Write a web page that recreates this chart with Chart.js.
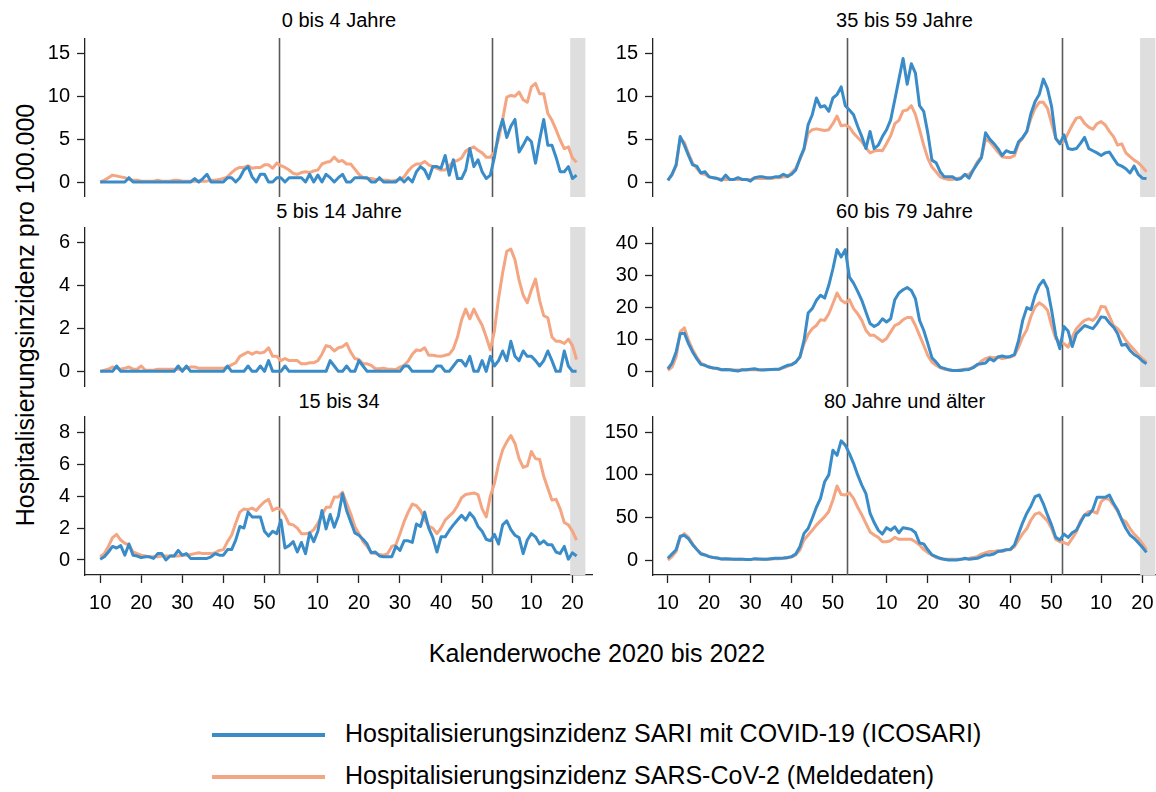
<!DOCTYPE html>
<html lang="de">
<head>
<meta charset="utf-8">
<title>Hospitalisierungsinzidenz nach Altersgruppe</title>
<script src="https://cdn.jsdelivr.net/npm/chart.js@4.4.1/dist/chart.umd.min.js"></script>
<style>
  body { margin: 0; background: #fff; font-family: "Liberation Sans", Arial, sans-serif; }
  #page { position: relative; width: 1156px; height: 792px; overflow: hidden; background: #fff; }
  .panel { position: absolute; }
  .ptitle { position: absolute; text-align: center; font-size: 20px; line-height: 20px; color: #000; white-space: nowrap; }
  #ytitle { position: absolute; left: 25px; top: 315px; transform: translate(-50%, -50%) rotate(-90deg);
            font-size: 25px; white-space: nowrap; color: #000; }
  #xtitle { position: absolute; left: 597px; top: 653px; transform: translate(-50%, -50%);
            font-size: 25px; white-space: nowrap; color: #000; }
  .leg { position: absolute; left: 212px; height: 30px; font-size: 25px; line-height: 30px; color: #000; white-space: nowrap; }
  .leg span { display: inline-block; width: 113px; height: 4px; vertical-align: middle; margin-right: 20px; }
</style>
</head>
<body>
<div id="page">
  <div id="ytitle">Hospitalisierungsinzidenz pro 100.000</div>
  <div id="xtitle">Kalenderwoche 2020 bis 2022</div>
  <div class="leg" style="top:718px"><span style="background:#3a8cc9"></span>Hospitalisierungsinzidenz SARI mit COVID-19 (ICOSARI)</div>
  <div class="leg" style="top:760px"><span style="background:#f4a582"></span>Hospitalisierungsinzidenz SARS-CoV-2 (Meldedaten)</div>
</div>
<script>
// Kalenderwochen 2020 KW10 bis 2022 KW21
const weeks = [];
[[2020, 10, 53], [2021, 1, 52], [2022, 1, 21]].forEach(([y, a, b]) => {
  for (let w = a; w <= b; w++) weeks.push(y + '-' + w);
});

const xTickWeeks = ['2020-10', '2020-20', '2020-30', '2020-40', '2020-50',
                    '2021-10', '2021-20', '2021-30', '2021-40', '2021-50',
                    '2022-10', '2022-20'];
const xTickLabels = ['10', '20', '30', '40', '50', '10', '20', '30', '40', '50', '10', '20'];

// ICOSARI (blau) und Meldedaten (orange), je Altersgruppe
const icosari_0_4 = [0,0,0,0,0,0,0,0.5,0,0, 0,0,0,0,0,0,0,0,0,0, 0,0,0,0.4,0,0.4,0.9,0,0,0,
  0,0.5,0.5,0,0.5,1.4,1.8,0.6,0,0.9, 0.9,0,0,0.5,0.5,0,0.5,0.5,0.5,0.5, 0,0.9,0,0.8,0,0.9,0.5,0,0.5,0.9,
  0,0,0.5,0.5,0.5,0.5,0,0,0.5,0, 0,0,0,0.5,0,0.5,0,1.2,1.8,1.4, 0.4,1.8,1.8,1.6,3.1,0.8,2.6,0.4,0.4,1.4,
  3.9,1.8,2.6,1.2,0.4,0.8,2.9,5.7,7.3,5.2, 6.5,7.3,3.5,4.3,5.2,4.7,2.2,4.9,7.3,4.3, 4.3,2.9,1.2,1.2,1.8,0.4,0.8];
const melde_0_4 = [0,0.2,0.5,0.8,0.7,0.6,0.5,0.3,0.2,0.2, 0.1,0.1,0.1,0.1,0.2,0.1,0.1,0.1,0.2,0.2,
  0.1,0.1,0.1,0.1,0.1,0.1,0.1,0.2,0.2,0.3, 0.4,0.6,1.1,1.5,1.7,1.7,1.9,1.6,1.7,1.7, 2.0,2.0,1.6,2.2,1.9,1.7,1.4,1.0,0.9,1.1,
  1.2,1.1,1.3,1.4,2.1,2.3,2.4,2.9,2.4,2.5, 2.1,2.1,1.5,0.9,0.5,0.4,0.4,0.3,0.3,0.2, 0.2,0.1,0.2,0.3,0.6,1.3,1.8,2.1,2.1,2.4,
  2.0,1.8,1.6,1.4,1.4,1.9,2.4,2.5,2.8,3.6, 3.9,4.1,3.7,3.4,2.9,2.9,3.5,5.0,7.3,9.9, 10.1,10.0,10.5,9.6,9.3,11.1,11.5,10.3,10.3,8.0,
  7.2,6.1,4.9,3.9,4.1,2.8,2.3];

const icosari_5_14 = [0,0,0,0,0.25,0,0,0,0,0, 0,0,0,0,0,0,0,0,0,0.25, 0,0.25,0,0,0,0,0,0,0,0,
  0,0.25,0,0,0,0,0.25,0,0,0.25, 0,0.5,0,0,0,0.25,0,0,0,0, 0,0,0,0,0,0,0.5,0.25,0,0,
  0.25,0,0,0.5,0.25,0,0,0,0,0, 0,0,0,0,0.25,0.25,0,0,0,0, 0,0,0.25,0.25,0,0,0.25,0.5,0.5,0.25,
  0.7,0,0,0.5,0,0.7,0.25,0.5,0.95,0.5, 1.4,0.7,0.5,0.95,0.7,0.7,0.5,0.25,0.5,0.95, 0.5,0,0,0.95,0.25,0,0];
const melde_5_14 = [0,0.05,0.1,0.2,0.15,0.1,0.15,0.2,0.1,0.1, 0.25,0.05,0.05,0.05,0.1,0.1,0.1,0.1,0.1,0.1,
  0.1,0.15,0.2,0.2,0.15,0.15,0.15,0.15,0.15,0.15, 0.15,0.2,0.3,0.4,0.7,0.8,0.9,0.8,0.9,0.85,
  0.9,1.1,0.7,0.7,0.5,0.6,0.5,0.5,0.5,0.35, 0.35,0.4,0.4,0.5,0.8,1.2,1.15,0.95,1.1,1.15,
  1.3,0.9,0.6,0.55,0.35,0.35,0.28,0.12,0.12,0.15, 0.1,0.1,0.08,0.2,0.28,0.48,0.8,1.0,0.97,1.1,
  0.75,0.75,0.72,0.7,0.75,0.8,1.05,1.6,2.4,2.9, 2.45,2.9,2.5,2.15,1.6,1.0,1.9,3.4,4.6,5.6,
  5.7,5.2,4.25,3.55,3.2,3.8,4.3,3.3,2.6,2.5, 1.6,1.4,1.4,1.3,1.5,1.2,0.55];

const icosari_15_34 = [0.05,0.2,0.5,0.85,0.75,0.9,0.3,1.0,0.3,0.25, 0.15,0.2,0.2,0.1,0.4,0.4,0,0.25,0.25,0.6,
  0.3,0.4,0.1,0.1,0.1,0.1,0.1,0.2,0.4,0.3, 0.3,0.65,0.65,1.25,2.1,2.0,3.0,2.7,2.7,2.7,
  1.8,1.5,1.8,1.65,2.5,0.75,0.9,1.15,0.5,1.1, 0.4,1.7,1.15,1.8,3.1,1.95,2.85,2.05,2.75,4.15,
  3.1,2.4,1.7,1.55,1.3,1.0,0.45,0.5,0.25,0.2, 0.2,0.2,0.85,0.6,1.2,1.2,1.1,2.25,2.1,3.0,
  2.0,1.4,0.5,1.45,1.45,1.85,2.2,2.5,2.8,2.5, 2.95,2.65,2.1,1.8,1.3,1.2,1.6,1.0,2.2,2.45,
  1.9,1.55,1.4,0.4,1.25,1.65,1.45,1.0,1.2,0.95, 0.95,0.5,0.4,0.85,0.05,0.45,0.25];
const melde_15_34 = [0.2,0.4,0.85,1.4,1.6,1.25,1.05,0.95,0.5,0.4, 0.3,0.25,0.2,0.2,0.2,0.25,0.25,0.25,0.25,0.25,
  0.3,0.3,0.35,0.4,0.45,0.4,0.4,0.4,0.45,0.6, 0.65,1.15,1.55,2.3,3.0,3.2,3.15,3.25,3.1,3.4,
  3.65,3.8,3.1,3.25,3.15,2.8,2.25,2.2,2.0,1.65, 1.65,1.7,1.9,2.3,2.8,3.3,3.3,3.95,3.95,4.25,
  3.55,2.9,2.1,1.65,1.15,0.85,0.45,0.4,0.35,0.3, 0.4,0.85,0.95,1.65,2.4,3.0,3.5,3.4,3.1,2.55,
  2.1,2.0,1.65,2.0,2.5,2.75,3.0,3.4,3.9,4.1, 4.15,4.2,4.1,3.2,2.7,4.0,4.8,6.0,6.9,7.4,
  7.8,7.3,6.35,5.8,5.9,6.8,6.35,6.3,5.25,4.5, 3.75,3.8,3.2,2.35,2.2,1.8,1.25];

const icosari_35_59 = [0.2,0.9,2.0,5.3,4.3,3.1,2.0,1.85,1.05,1.2, 0.6,0.5,0.4,0.2,0.8,0.3,0.3,0.5,0.3,0.3,
  0.1,0.5,0.6,0.6,0.5,0.5,0.6,0.6,0.9,0.65, 0.9,1.4,2.75,3.9,6.7,7.85,9.8,8.75,8.9,8.25,
  9.8,10.2,11.1,8.9,8.4,7.85,6.5,5.3,3.9,5.9, 3.9,4.3,5.3,6.1,7.25,9.6,12.0,14.4,11.4,13.8,
  12.7,8.9,8.25,5.7,2.55,2.25,1.2,0.6,0.6,0.6, 0.3,0.4,0.9,0.45,1.4,2.15,2.85,5.75,5.0,4.5,
  3.9,3.1,3.65,3.45,3.45,4.7,5.2,5.9,8.0,9.4, 10.2,12.0,10.9,8.8,5.1,4.45,5.5,3.9,3.8,3.9,
  4.5,5.2,3.9,3.65,3.4,3.1,3.4,3.5,2.75,2.05, 1.85,1.55,1.05,1.85,0.9,0.45,0.4];
const melde_35_59 = [0.2,0.8,1.9,5.1,4.6,3.3,2.2,1.6,1.0,0.9, 0.6,0.5,0.4,0.3,0.3,0.3,0.3,0.3,0.3,0.3,
  0.3,0.4,0.4,0.4,0.4,0.4,0.5,0.5,0.6,0.6, 1.1,1.6,2.6,3.8,5.7,6.1,6.2,6.1,6.0,6.1,
  6.8,7.7,6.55,6.65,6.4,5.7,5.2,4.7,4.0,3.4, 3.6,3.7,3.65,4.5,5.4,6.8,7.2,8.3,8.4,8.9,
  7.85,6.1,4.3,2.75,1.75,1.2,0.6,0.4,0.3,0.3, 0.4,0.5,0.8,0.9,1.4,2.35,2.95,5.0,4.7,4.1,
  3.5,2.95,2.85,2.85,3.1,4.5,5.1,5.9,7.45,8.6, 9.3,9.3,8.6,6.85,5.1,4.5,4.7,5.7,6.65,7.45,
  7.55,6.85,6.4,6.15,6.8,7.05,6.65,5.9,5.3,4.3, 4.45,3.4,2.95,2.55,2.25,1.75,1.2];

const icosari_60_79 = [0.7,2.5,6.0,11.7,11.9,8.6,6.0,3.9,2.1,1.8, 1.25,0.95,0.85,0.4,0.5,0.4,0.2,0,0.4,0.4,
  0.6,0.7,0.4,0.3,0.4,0.5,0.6,0.6,1.25,1.8, 2.0,2.8,4.4,9.6,18.2,19.6,22.2,23.8,22.9,26.9,
  32.1,38.1,35.8,38.1,29.5,27.6,25.0,22.2,18.5,14.9, 14.0,14.7,16.4,15.4,16.4,22.4,24.5,25.5,26.2,25.3,
  22.7,15.9,12.8,8.6,4.2,2.8,1.25,0.85,0.4,0.2, 0.2,0.2,0.4,0.5,1.05,2.1,2.3,2.5,3.9,3.15,
  4.4,4.7,4.4,4.6,5.2,9.6,15.9,19.9,19.3,23.8, 26.9,28.5,25.9,19.1,11.2,7.0,14.0,12.6,7.7,11.7,
  13.0,14.3,13.8,13.3,14.9,17.0,16.8,15.1,13.8,11.7, 8.1,8.4,6.5,5.2,4.4,3.15,2.3];
const melde_60_79 = [0.2,1.25,4.4,12.3,13.6,9.6,6.7,4.4,2.5,1.8, 1.25,0.95,0.7,0.4,0.4,0.4,0.3,0.3,0.3,0.3,
  0.4,0.5,0.4,0.4,0.5,0.5,0.5,0.6,1.0,1.5, 2.1,2.8,4.4,8.6,11.5,13.3,14.3,16.1,15.9,18.0,
  21.2,24.5,22.2,21.4,22.4,19.6,18.0,15.9,12.8,11.2, 11.2,10.2,9.3,10.2,12.3,14.3,14.9,16.1,16.8,16.8,
  14.3,11.2,8.1,4.9,2.8,1.8,1.05,0.6,0.4,0.2, 0.2,0.4,0.6,0.7,1.25,1.8,3.15,3.9,4.4,4.2,
  4.4,3.9,4.2,4.4,4.9,7.5,10.7,13.0,17.2,20.1, 21.4,20.6,19.1,14.3,10.2,9.1,8.6,7.5,10.7,13.3,
  14.7,15.9,16.4,15.9,17.2,20.3,20.1,17.2,14.3,13.3, 11.7,9.6,8.1,6.7,5.2,3.9,2.8];

const icosari_80 = [2,7,12,28,29,25,18,12.5,7,6, 4,3,2.3,1.2,1.5,1.2,0.8,0.8,0.8,0.5,
  0.5,1.6,1.2,0.8,0.8,1.5,2,2,2.3,3, 4,7,15.7,31.3,37,49,62,72.5,92,100,
  129,123,140,135,125,113.6,100,88,78,55, 44,35,30.5,38,35,39,32,38,37,36,
  32,20,19,12,6,4,2,0.8,0,0, 0,0.8,2,0.8,1.6,2,4,6,6,7,
  10,11,12,12.5,17.6,31,44,55,63.5,74.4, 76.4,66,53,41,26.6,23.5,30.5,26.6,32,35,
  44,53,53,59.5,73.6,73.6,73.6,76.4,66.6,58.8, 47,37,29.4,25.5,20.4,14.9,9];
const melde_80 = [0,4,10,26.6,31,26.6,19,12.5,8,6, 4,3,2.3,1.2,1.2,1,0.8,0.8,0.8,0.5,
  0.5,1,1,0.8,0.8,1.2,1.5,1.6,2,2.5, 3.5,6,12,23.5,29.4,35,41,46,51,57,
  70.5,87,77,76.4,79,72.5,62,53,43,33, 29.4,26.6,21.5,21.5,22.7,26.6,24.3,24.3,24.3,24.3,
  21.5,17.6,12.5,8.6,6,3,1.6,0.8,0.8,0.8, 0.8,0.8,1.2,2,3,4,7,8.6,10,10,
  11,10,12,12,15.7,23.5,31,37,47,54, 55.6,51,46,37,24.3,21.5,20.4,18.4,25.5,33,
  46,53,57,57,55,68.5,72.5,71,64.6,57, 48,45,37,30.5,25.5,19.6,11.8];

const groups = ['0 bis 4 Jahre', '5 bis 14 Jahre', '15 bis 34', '35 bis 59 Jahre', '60 bis 79 Jahre', '80 Jahre und älter'];
const yTicks = [[0, 5, 10, 15], [0, 2, 4, 6], [0, 2, 4, 6, 8], [0, 5, 10, 15], [0, 10, 20, 30, 40], [0, 50, 100, 150]];
const yRanges = [[-1.75, 16.8], [-0.73, 6.73], [-0.94, 9.02], [-1.75, 16.8], [-5, 45.2], [-17.6, 169.2]];
const icosari = [icosari_0_4, icosari_5_14, icosari_15_34, icosari_35_59, icosari_60_79, icosari_80];
const melde = [melde_0_4, melde_5_14, melde_15_34, melde_35_59, melde_60_79, melde_80];

const BLUE = '#3a8cc9';
const ORANGE = '#f4a582';
const FONT = '"Liberation Sans", Arial, sans-serif';

// Jahreswechsel und grau hinterlegter Meldeverzug
const yearBreaks = [weeks.indexOf('2021-1') - 0.5, weeks.indexOf('2022-1') - 0.5];
const shadeFrom = weeks.indexOf('2022-20') - 0.55;
const shadeTo = shadeFrom + 3.7;

// Layout der sechs Panels
const cols = [
  { left: 40, width: 553, axisW: 45, xMin: -3.7, xMax: 120 },
  { left: 597, width: 559, axisW: 56, xMin: -3.6, xMax: 118.3 }
];
const rows = [
  { top: 38, plotH: 159, titleY: 20 },
  { top: 227, plotH: 160, titleY: 211 },
  { top: 416, plotH: 159, titleY: 401, xAxisH: 50 }
];

const markers = {
  id: 'markers',
  beforeDatasetsDraw(chart) {
    const { ctx, chartArea: a, scales: { x } } = chart;
    ctx.save();
    const x0 = x.getPixelForValue(shadeFrom);
    const x1 = Math.min(x.getPixelForValue(shadeTo), a.right);
    ctx.fillStyle = '#dedede';
    ctx.fillRect(x0, a.top, x1 - x0, a.bottom - a.top);
    ctx.strokeStyle = '#5a5a5a';
    ctx.lineWidth = 1.6;
    yearBreaks.forEach(v => {
      const px = Math.round(x.getPixelForValue(v)) + 0.5;
      ctx.beginPath();
      ctx.moveTo(px, a.top);
      ctx.lineTo(px, a.bottom);
      ctx.stroke();
    });
    ctx.restore();
  }
};

const page = document.getElementById('page');

groups.forEach((name, g) => {
  const col = cols[Math.floor(g / 3)];
  const row = rows[g % 3];
  const bottomRow = g % 3 === 2;
  const h = row.plotH + (bottomRow ? row.xAxisH : 0);

  const t = document.createElement('div');
  t.className = 'ptitle';
  t.style.left = (col.left + col.axisW) + 'px';
  t.style.width = (col.width - col.axisW) + 'px';
  t.style.top = (row.titleY - 10) + 'px';
  t.textContent = name;
  page.appendChild(t);

  const box = document.createElement('div');
  box.className = 'panel';
  box.style.left = col.left + 'px';
  box.style.top = row.top + 'px';
  box.style.width = col.width + 'px';
  box.style.height = h + 'px';
  const cv = document.createElement('canvas');
  box.appendChild(cv);
  page.appendChild(box);

  new Chart(cv.getContext('2d'), {
    type: 'line',
    data: {
      datasets: [{
        label: 'Hospitalisierungsinzidenz SARI mit COVID-19 (ICOSARI)',
        data: icosari[g].map((v, i) => ({ x: i, y: v })),
        borderColor: BLUE,
        borderWidth: 3,
        pointRadius: 0,
        tension: 0,
        borderJoinStyle: 'round'
      }, {
        label: 'Hospitalisierungsinzidenz SARS-CoV-2 (Meldedaten)',
        data: melde[g].map((v, i) => ({ x: i, y: v })),
        borderColor: ORANGE,
        borderWidth: 3,
        pointRadius: 0,
        tension: 0,
        borderJoinStyle: 'round'
      }]
    },
    options: {
      responsive: true,
      maintainAspectRatio: false,
      animation: false,
      layout: { padding: 0 },
      plugins: { legend: { display: false }, tooltip: { enabled: false } },
      scales: {
        x: {
          type: 'linear',
          bounds: 'data',
          min: col.xMin,
          max: col.xMax,
          display: bottomRow,
          afterBuildTicks: s => { s.ticks = xTickWeeks.map(w => ({ value: weeks.indexOf(w) })); },
          afterFit: s => { s.height = row.xAxisH || 0; s.paddingLeft = 0; s.paddingRight = 0; },
          ticks: {
            autoSkip: false,
            maxRotation: 0,
            padding: 8,
            color: '#000',
            font: { size: 20, family: FONT },
            callback: (v, i) => xTickLabels[i]
          },
          grid: { drawOnChartArea: false, drawTicks: true, tickLength: 8, color: '#222', tickWidth: 1.3 },
          border: { display: true, color: '#222', width: 1.3 }
        },
        y: {
          bounds: 'data',
          min: yRanges[g][0],
          max: yRanges[g][1],
          afterBuildTicks: s => { s.ticks = yTicks[g].map(v => ({ value: v })); },
          afterFit: s => { s.width = col.axisW; s.paddingTop = 0; s.paddingBottom = 0; },
          ticks: { padding: 7, color: '#000', font: { size: 20, family: FONT } },
          grid: { drawOnChartArea: false, drawTicks: true, tickLength: 8, color: '#222', tickWidth: 1.3 },
          border: { display: true, color: '#222', width: 1.3 }
        }
      }
    },
    plugins: [markers]
  });
});
</script>
</body>
</html>
